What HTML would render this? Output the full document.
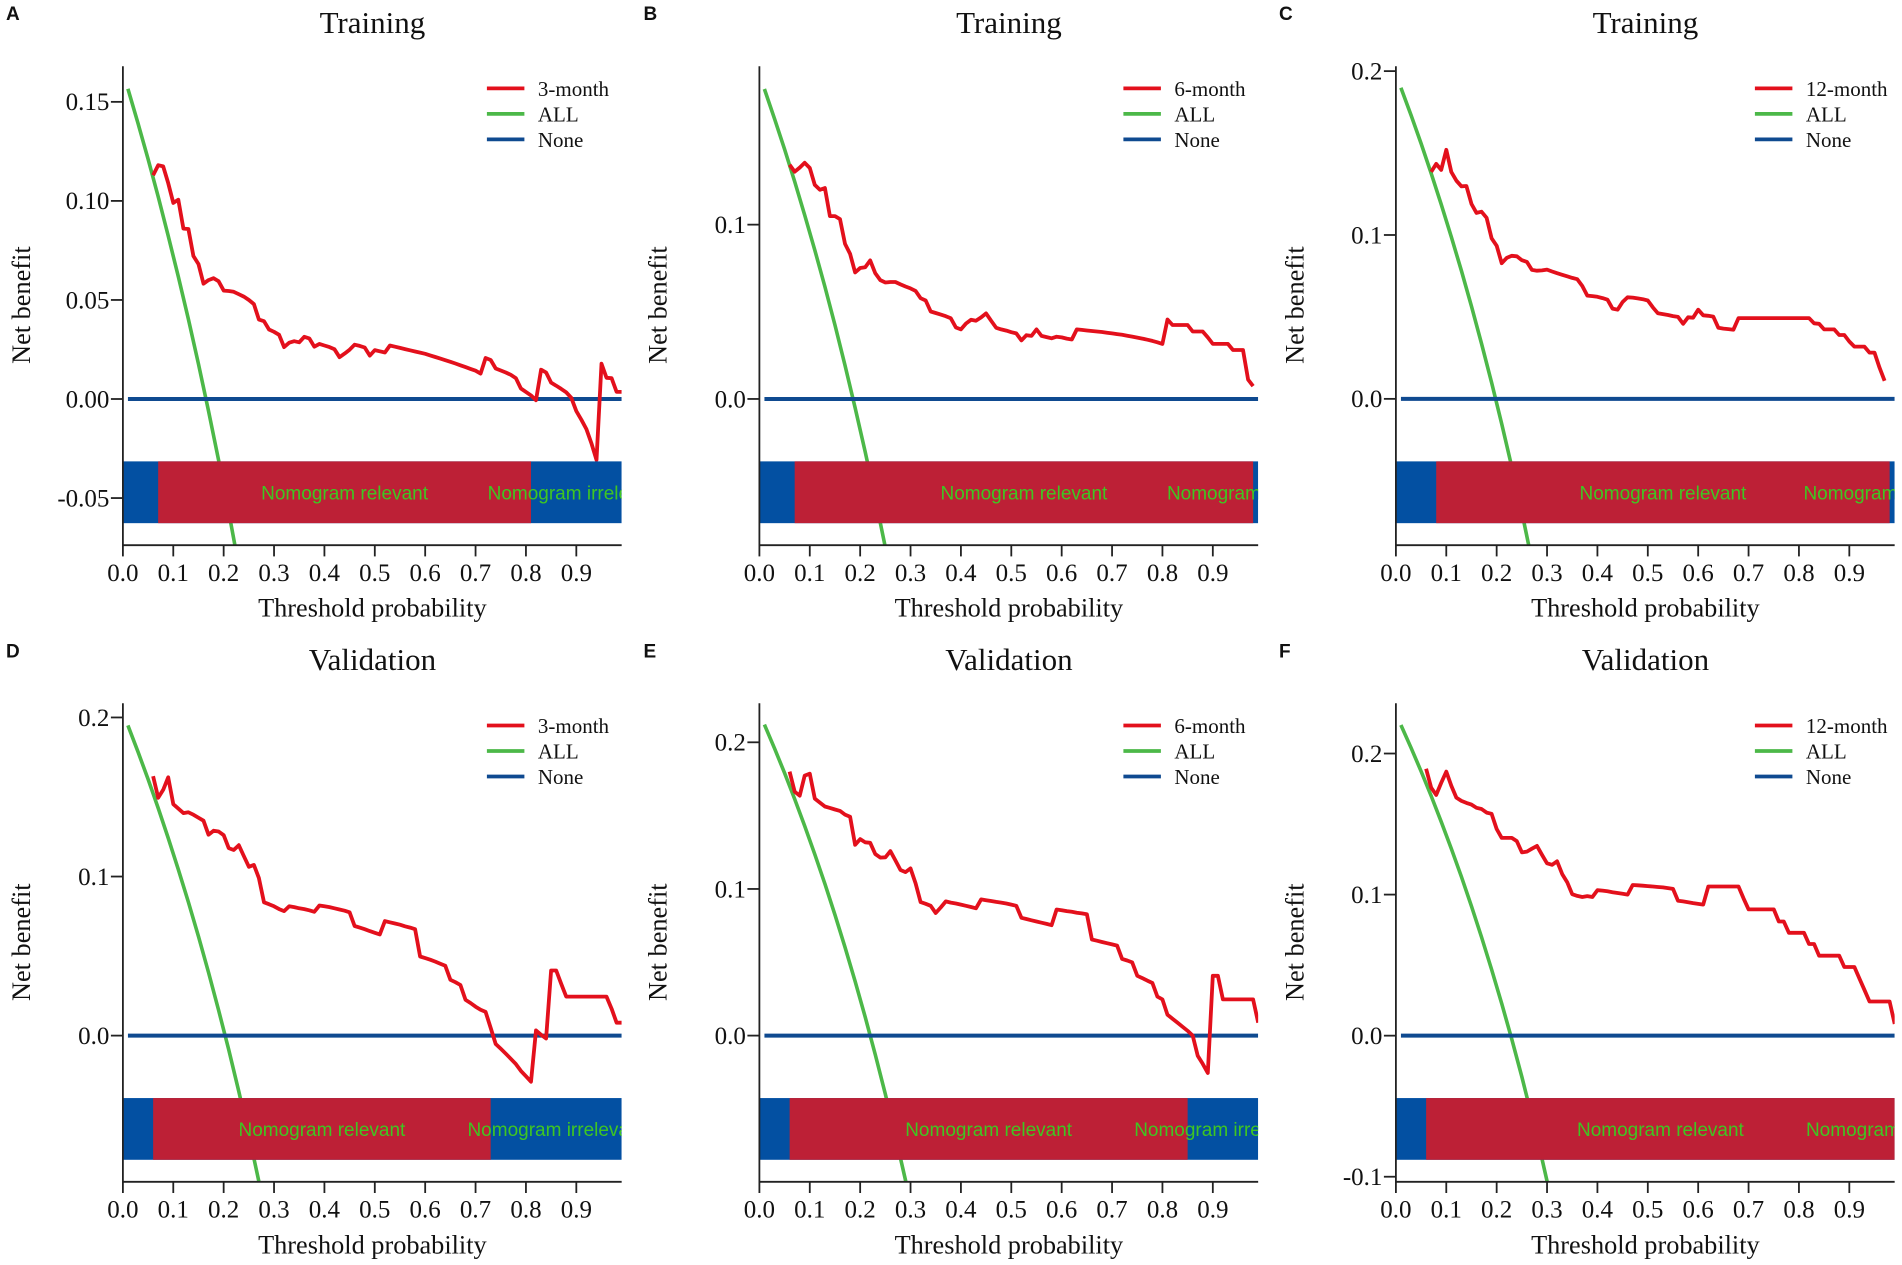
<!DOCTYPE html>
<html lang="en">
<head>
<meta charset="utf-8">
<title>Decision curves: training and validation</title>
<style>
html,body{margin:0;padding:0;background:#fff;}
svg{display:block;}
text{font-family:"Liberation Serif",serif;fill:#111;}
.letter{font-family:"Liberation Sans",sans-serif;font-weight:700;font-size:19px;}
.bar-label{font-family:"Liberation Sans",sans-serif;font-size:19px;fill:#3fc622;}
</style>
</head>
<body>
<svg id="figure" xmlns="http://www.w3.org/2000/svg" width="1902" height="1265" viewBox="0 0 1902 1265"></svg>
<script>
const gridT=[.01,.02,.03,.04,.05,.06,.07,.08,.09,.1,.11,.12,.13,.14,.15,.16,.17,.18,.19,.2,.21,.22,.23,.24,.25,.26,.27,.28,.29,.3,.31,.32,.33,.34,.35,.36,.37,.38,.39,.4,.41,.42,.43,.44,.45,.46,.47,.48,.49,.5,.51,.52,.53,.54,.55,.56,.57,.58,.59,.6,.61,.62,.63,.64,.65,.66,.67,.68,.69,.7,.71,.72,.73,.74,.75,.76,.77,.78,.79,.8,.81,.82,.83,.84,.85,.86,.87,.88,.89,.9,.91,.92,.93,.94,.95,.96,.97,.98,.99];
const allT=[.01,.03,.05,.07,.09,.11,.13,.15,.17,.19,.21,.23,.25,.27,.29,.31];
const xTicks=[0,.1,.2,.3,.4,.5,.6,.7,.8,.9];
const xTickLabels=["0.0","0.1","0.2","0.3","0.4","0.5","0.6","0.7","0.8","0.9"];

const modelA=[.113,.118,.1174,.109,.099,.1006,.086,.0858,.0722,.0681,.0582,.06,.061,.0594,.0547,.0545,.0541,.0529,.0517,.05,.0479,.0401,.0393,.0351,.0339,.0324,.0262,.0284,.0292,.0286,.0314,.0306,.0264,.0278,.027,.0262,.0251,.0211,.0229,.0249,.0274,.0268,.026,.0219,.0247,.0241,.0235,.027,.0264,.0258,.0252,.0246,.024,.0234,.0228,.022,.0212,.0204,.0196,.0188,.0179,.017,.0161,.0152,.0143,.0128,.0207,.0197,.0154,.0144,.0134,.0122,.0105,.0053,.0036,.0018,-.0006,.0148,.0134,.0083,.0067,.0051,.0034,.0006,-.0061,-.0105,-.0152,-.0223,-.0308,.0178,.0107,.0105,.0036,.0036];
const modelB=[.1344,.1304,.1327,.1355,.1325,.1228,.12,.121,.1049,.1049,.1032,.089,.0832,.0726,.0751,.0756,.0795,.0721,.0682,.0668,.0671,.0671,.0657,.0645,.0634,.062,.0578,.0565,.0502,.0493,.0484,.0475,.0463,.041,.0399,.0433,.0454,.0449,.0468,.0491,.0449,.0408,.0399,.0392,.0383,.0376,.0336,.0366,.0362,.0399,.0362,.0355,.0348,.0357,.0353,.0346,.0341,.0399,.0396,.0393,.039,.0387,.0384,.038,.0376,.0372,.0368,.0363,.0358,.0352,.0346,.034,.0333,.0325,.0316,.0456,.0424,.0424,.0424,.0424,.0387,.0387,.0387,.0353,.0316,.0316,.0316,.0316,.0281,.0281,.0281,.0111,.0074];
const modelC=[.1385,.1434,.1397,.152,.1385,.1331,.1297,.1299,.1189,.1135,.1142,.1105,.098,.0934,.0828,.086,.0873,.087,.0846,.0836,.0787,.0782,.0784,.0789,.0777,.0767,.0757,.0748,.0738,.073,.0689,.063,.0627,.0623,.0615,.0605,.0551,.0544,.0591,.062,.0618,.0613,.0608,.06,.0559,.0522,.0517,.0512,.0505,.05,.0458,.0498,.0495,.0544,.051,.0507,.0502,.0434,.0429,.0426,.0422,.0493,.0493,.0493,.0493,.0493,.0493,.0493,.0493,.0493,.0493,.0493,.0493,.0493,.0493,.0493,.0461,.0458,.0424,.0424,.0424,.039,.039,.035,.0319,.0319,.0319,.0282,.0282,.0191,.011];
const modelD=[.1631,.1495,.1545,.1624,.1455,.1427,.1399,.1404,.1389,.1369,.1351,.1263,.1288,.1283,.126,.1179,.1167,.1197,.1129,.1061,.1073,.099,.0838,.0826,.0813,.0795,.0783,.0813,.0808,.08,.0795,.0788,.0778,.0818,.0813,.0808,.08,.0793,.0785,.0775,.0689,.0679,.0669,.0657,.0646,.0636,.072,.0712,.0705,.0697,.0687,.0679,.0669,.0497,.0487,.0477,.0465,.0452,.0439,.0351,.0336,.0318,.0225,.0205,.0182,.0162,.0149,.0048,-.0053,-.0083,-.0114,-.0146,-.0179,-.0222,-.0255,-.029,.0033,.0005,-.0018,.0409,.0409,.0326,.0245,.0245,.0245,.0245,.0245,.0245,.0245,.0245,.0245,.0169,.0081,.0081];
const modelE=[.18,.1663,.1636,.1773,.1786,.1616,.1589,.1562,.1553,.1542,.1532,.1507,.1493,.1301,.134,.1318,.1315,.1238,.1214,.1216,.1258,.1195,.1129,.1115,.114,.1038,.091,.0899,.0885,.0836,.0874,.0915,.0907,.0901,.0893,.0885,.0877,.0868,.0929,.0923,.0918,.0912,.0907,.0901,.0893,.0885,.0803,.0795,.0786,.0778,.077,.0762,.0753,.086,.0855,.0849,.0844,.0838,.0833,.0827,.0655,.0647,.0638,.063,.0622,.0614,.0523,.0512,.0499,.0408,.0392,.0375,.0359,.0266,.0247,.0142,.0115,.0088,.006,.0033,0,-.0137,-.0192,-.0255,.0408,.0408,.0247,.0247,.0247,.0247,.0247,.0247,.0247,.0088];
const modelF=[.1892,.1758,.1707,.1792,.1872,.1772,.1687,.1664,.165,.1638,.1615,.1607,.1581,.1573,.1464,.1402,.1402,.1402,.1379,.1299,.1305,.1325,.1345,.1282,.1222,.1211,.1236,.1145,.1088,.1003,.0991,.0983,.0989,.0983,.1031,.1028,.1023,.1017,.1011,.1006,.1,.1068,.1066,.1063,.106,.1057,.1054,.1051,.1046,.104,.0957,.0952,.0946,.094,.0934,.0929,.1057,.1057,.1057,.1057,.1057,.1057,.1057,.0974,.0895,.0895,.0895,.0895,.0895,.0895,.0809,.0809,.0729,.0729,.0729,.0729,.065,.065,.0567,.0567,.0567,.0567,.0567,.0487,.0487,.0487,.0405,.0325,.0242,.0242,.0242,.0242,.0242,.0083];

const allA=[.1566,.1392,.1211,.1021,.0824,.0618,.0403,.0176,-.006,-.0309,-.0569,-.0844];
const allB=[.1778,.1608,.1432,.1247,.1055,.0854,.0644,.0423,.0193,-.005,-.0304,-.0571,-.0853,-.1151];
const allC=[.1899,.1732,.1558,.1376,.1187,.0989,.0782,.0564,.0338,.0099,-.0152,-.0416,-.0693,-.0987];
const allD=[.195,.1784,.1611,.143,.1242,.1045,.0839,.0623,.0398,.016,-.0088,-.0351,-.0626,-.0918,-.1226];
const allE=[.2121,.1959,.179,.1613,.1429,.1236,.1035,.0823,.0603,.037,.0127,-.013,-.04,-.0685,-.0986,-.1305];
const allF=[.2202,.2041,.1874,.1699,.1517,.1326,.1127,.0917,.0699,.0469,.0228,-.0026,-.0293,-.0576,-.0874,-.1189];

const yTicksA=[.15,.1,.05,0,-.05];
const yLabelsA=["0.15","0.10","0.05","0.00","-0.05"];
const yTicksB=[.1,0];
const yLabelsB=["0.1","0.0"];
const yTicksC=[.2,.1,0];
const yLabelsC=["0.2","0.1","0.0"];
const yTicksF=[.2,.1,0,-.1];
const yLabelsF=["0.2","0.1","0.0","-0.1"];

const panels=[
 {id:"a",letter:"A",lx:6,title:"Training",month:"3-month",x0:122.9,top:66.2,bottom:545.2,yMin:-.0738,yMax:.168,ticks:yTicksA,labels:yLabelsA,model:modelA,start:.06,all:allA,relStart:.07,relEnd:.81,legendX:364,yTitleX:30},
 {id:"b",letter:"B",lx:643.5,title:"Training",month:"6-month",x0:759.4,top:66.2,bottom:545.2,yMin:-.0839,yMax:.1909,ticks:yTicksB,labels:yLabelsB,model:modelB,start:.06,all:allB,relStart:.07,relEnd:.98,legendX:364,yTitleX:666.7},
 {id:"c",letter:"C",lx:1279,title:"Training",month:"12-month",x0:1395.9,top:66.2,bottom:545.2,yMin:-.0893,yMax:.203,ticks:yTicksC,labels:yLabelsC,model:modelC,start:.07,all:allC,relStart:.08,relEnd:.98,legendX:359,yTitleX:1303.6},
 {id:"d",letter:"D",lx:6,title:"Validation",month:"3-month",x0:122.9,top:703.3,bottom:1181.8,yMin:-.0919,yMax:.2089,ticks:yTicksC,labels:yLabelsC,model:modelD,start:.06,all:allD,relStart:.06,relEnd:.73,legendX:364,yTitleX:30},
 {id:"e",letter:"E",lx:643.5,title:"Validation",month:"6-month",x0:759.4,top:703.3,bottom:1181.8,yMin:-.0997,yMax:.2266,ticks:yTicksC,labels:yLabelsC,model:modelE,start:.06,all:allE,relStart:.06,relEnd:.85,legendX:364,yTitleX:666.7},
 {id:"f",letter:"F",lx:1279,title:"Validation",month:"12-month",x0:1395.9,top:703.3,bottom:1181.8,yMin:-.1036,yMax:.2356,ticks:yTicksF,labels:yLabelsF,model:modelF,start:.06,all:allF,relStart:.06,relEnd:.99,legendX:359,yTitleX:1303.6}
];

const NS="http://www.w3.org/2000/svg";
const svg=document.getElementById("figure");
const RED="#e3101c",GREEN="#4cb848",NAVY="#0f4a90",BARBLUE="#0350a2",BARRED="#bd2036",INK="#222";
const X_MAX=.99;
const X_SCALE=503.8;

function mk(parent,tag,attrs,txt){
  const el=document.createElementNS(NS,tag);
  for(const k in attrs){el.setAttribute(k,attrs[k]);}
  if(txt!==undefined){el.textContent=txt;}
  parent.appendChild(el);
  return el;
}

panels.forEach(function(p){
  const sx=function(t){return p.x0+t*X_SCALE;};
  const sy=function(v){return p.bottom-(v-p.yMin)/(p.yMax-p.yMin)*(p.bottom-p.top);};
  const right=sx(X_MAX);
  const h=p.bottom-p.top;
  const cx=p.x0+249.5;
  const g=mk(svg,"g",{});
  
  

  const defs=mk(g,"defs",{});
  const clip=mk(defs,"clipPath",{id:"clip-"+p.id});
  mk(clip,"rect",{x:p.x0,y:p.top,width:right-p.x0,height:h});

  const letter=mk(g,"text",{x:p.lx,y:p.top-46,"class":"letter"},p.letter);
  
  

  const title=mk(g,"text",{x:cx,y:p.top-33.2,"text-anchor":"middle","font-size":31},p.title);
  
  

  const plot=mk(g,"g",{"clip-path":"url(#clip-"+p.id+")"});
  
  

  const allPts=p.all.map(function(v,i){return sx(allT[i]).toFixed(1)+","+sy(v).toFixed(1);}).join(" ");
  const allLine=mk(plot,"polyline",{points:allPts,fill:"none",stroke:GREEN,"stroke-width":3.6});
  
  

  const noneLine=mk(plot,"line",{x1:sx(.01),x2:right,y1:sy(0),y2:sy(0),stroke:NAVY,"stroke-width":4});
  
  

  const first=gridT.indexOf(p.start);
  const modelPts=p.model.map(function(v,i){return sx(gridT[first+i]).toFixed(1)+","+sy(v).toFixed(1);}).join(" ");
  const modelLine=mk(plot,"polyline",{points:modelPts,fill:"none",stroke:RED,"stroke-width":3.8,"stroke-linejoin":"round"});
  
  

  const barTop=p.bottom-.175*h;
  const barH=.129*h;
  const blueBar=mk(plot,"rect",{x:p.x0,y:barTop,width:right-p.x0,height:barH,fill:BARBLUE});
  
  
  const redBar=mk(plot,"rect",{x:sx(p.relStart),y:barTop,width:sx(p.relEnd)-sx(p.relStart),height:barH,fill:BARRED});
  
  

  const labelY=barTop+barH/2+7;
  const relLabel=mk(plot,"text",{x:sx((p.relStart+p.relEnd)/2),y:labelY,"text-anchor":"middle","class":"bar-label"},"Nomogram relevant");
  
  
  const irrLabel=mk(plot,"text",{x:sx((p.relEnd+X_MAX)/2),y:labelY,"text-anchor":"middle","class":"bar-label"},"Nomogram irrelevant");
  
  

  const yAxis=mk(g,"line",{x1:p.x0,x2:p.x0,y1:p.top,y2:p.bottom+.9,stroke:INK,"stroke-width":1.8});
  
  
  const xAxis=mk(g,"line",{x1:p.x0,x2:right,y1:p.bottom,y2:p.bottom,stroke:INK,"stroke-width":1.8});
  
  

  xTicks.forEach(function(t,i){
    const tick=mk(g,"line",{x1:sx(t),x2:sx(t),y1:p.bottom,y2:p.bottom+11.2,stroke:INK,"stroke-width":1.8});
    
    
    const lab=mk(g,"text",{x:sx(t),y:p.bottom+35.6,"text-anchor":"middle","font-size":25},xTickLabels[i]);
    
    
  });

  p.ticks.forEach(function(v,i){
    const tick=mk(g,"line",{x1:p.x0-12,x2:p.x0,y1:sy(v),y2:sy(v),stroke:INK,"stroke-width":1.8});
    
    
    const lab=mk(g,"text",{x:p.x0-13.5,y:sy(v)+8.3,"text-anchor":"end","font-size":25},p.labels[i]);
    
    
  });

  const xTitle=mk(g,"text",{x:cx,y:p.bottom+71.5,"text-anchor":"middle","font-size":26.3},"Threshold probability");
  
  

  const midY=p.top+238.9;
  const yTitle=mk(g,"text",{x:p.yTitleX,y:midY,"text-anchor":"middle","font-size":26.3,transform:"rotate(-90 "+p.yTitleX+" "+midY+")"},"Net benefit");
  
  

  const legend=mk(g,"g",{});
  
  
  const lx=p.x0+p.legendX;
  const legendNames=[p.month,"ALL","None"];
  const legendColors=[RED,GREEN,NAVY];
  legendNames.forEach(function(name,i){
    const ly=p.top+22.2+i*25.5;
    const swatch=mk(legend,"line",{x1:lx,x2:lx+37.5,y1:ly,y2:ly,stroke:legendColors[i],"stroke-width":3.8});
    
    
    const entry=mk(legend,"text",{x:lx+51,y:ly+7.6,"font-size":21},name);
    
    
  });
});
</script>
</body>
</html>
